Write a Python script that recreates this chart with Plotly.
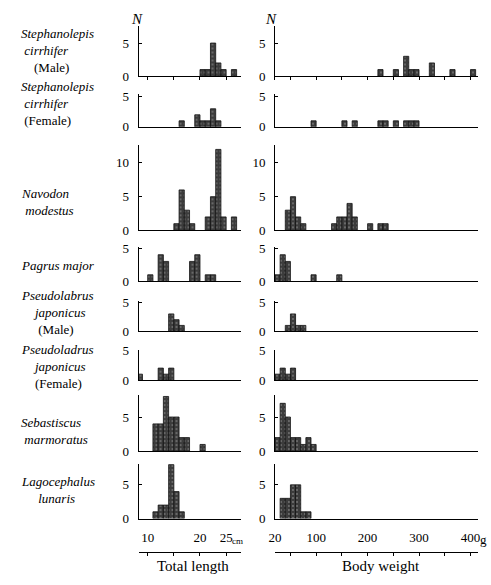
import plotly.graph_objects as go

W, H = 491, 585

# ---------------- data ----------------
# species label lines: (text, italic, indent in spaces)
species_labels = [
    [("Stephanolepis", True, 0), ("cirrhifer", True, 1), ("(Male)", False, 4)],
    [("Stephanolepis", True, 0), ("cirrhifer", True, 1), ("(Female)", False, 1)],
    [("Navodon", True, 0), ("modestus", True, 1)],
    [("Pagrus major", True, 0)],
    [("Pseudolabrus", True, 0), ("japonicus", True, 4), ("(Male)", False, 5)],
    [("Pseudoladrus", True, 0), ("japonicus", True, 4), ("(Female)", False, 4)],
    [("Sebastiscus", True, 0), ("marmoratus", True, 1)],
    [("Lagocephalus", True, 0), ("lunaris", True, 5)],
]

# Total length, 1-cm classes (lower edge, cm) and counts N
sc_male_len_bins = [20, 21, 22, 23, 24, 26]
sc_male_len_n = [1, 1, 5, 2, 1, 1]
sc_female_len_bins = [16, 19, 20, 21, 22, 23]
sc_female_len_n = [1, 2, 1, 1, 3, 1]
navodon_len_bins = [15, 16, 17, 18, 21, 22, 23, 24, 26]
navodon_len_n = [1, 6, 3, 1, 2, 5, 12, 2, 2]
pagrus_len_bins = [10, 12, 13, 18, 19, 21, 22]
pagrus_len_n = [1, 4, 3, 3, 4, 1, 1]
pj_male_len_bins = [14, 15, 16]
pj_male_len_n = [3, 2, 1]
pj_female_len_bins = [8, 12, 13, 14]
pj_female_len_n = [1, 2, 1, 2]
sebast_len_bins = [11, 12, 13, 14, 15, 16, 17, 20]
sebast_len_n = [4, 4, 8, 5, 5, 2, 2, 1]
lago_len_bins = [11, 12, 13, 14, 15, 16]
lago_len_n = [1, 2, 2, 8, 4, 1]

# Body weight, 10-g classes (lower edge, g) and counts N
sc_male_wt_bins = [220, 250, 270, 280, 290, 320, 360, 400]
sc_male_wt_n = [1, 1, 3, 1, 1, 2, 1, 1]
sc_female_wt_bins = [90, 150, 170, 220, 230, 250, 270, 280, 290]
sc_female_wt_n = [1, 1, 1, 1, 1, 1, 1, 1, 1]
navodon_wt_bins = [40, 50, 60, 70, 130, 140, 150, 160, 170, 200, 220, 230]
navodon_wt_n = [3, 5, 2, 1, 1, 2, 2, 4, 2, 1, 1, 1]
pagrus_wt_bins = [20, 30, 40, 90, 140]
pagrus_wt_n = [1, 4, 3, 1, 1]
pj_male_wt_bins = [40, 50, 60, 70]
pj_male_wt_n = [1, 3, 1, 1]
pj_female_wt_bins = [20, 30, 40, 50]
pj_female_wt_n = [1, 2, 1, 2]
sebast_wt_bins = [20, 30, 40, 50, 60, 70, 80, 90]
sebast_wt_n = [2, 7, 5, 2, 2, 1, 2, 1]
lago_wt_bins = [30, 40, 50, 60, 70, 80]
lago_wt_n = [3, 3, 5, 5, 1, 1]

# mean marks (small triangles under each histogram)
len_means = [22.8, 20.6, 21.0, 17.4, 15.0, 12.5, 14.3, 14.5]
wt_means = [297, 221, 121, 75, 58, 40, 49, 54]

len_bins = [sc_male_len_bins, sc_female_len_bins, navodon_len_bins, pagrus_len_bins,
            pj_male_len_bins, pj_female_len_bins, sebast_len_bins, lago_len_bins]
len_counts = [sc_male_len_n, sc_female_len_n, navodon_len_n, pagrus_len_n,
              pj_male_len_n, pj_female_len_n, sebast_len_n, lago_len_n]
wt_bins = [sc_male_wt_bins, sc_female_wt_bins, navodon_wt_bins, pagrus_wt_bins,
           pj_male_wt_bins, pj_female_wt_bins, sebast_wt_bins, lago_wt_bins]
wt_counts = [sc_male_wt_n, sc_female_wt_n, navodon_wt_n, pagrus_wt_n,
             pj_male_wt_n, pj_female_wt_n, sebast_wt_n, lago_wt_n]

len_ticks = [10, 15, 20, 25]
len_ticktext = ["10", "", "20", "25"]
wt_ticks = [20, 50, 100, 150, 200, 250, 300, 350, 400]
wt_ticktext = ["20", "", "100", "", "200", "", "300", "", "400"]

# ---------------- geometry / style ----------------
row_top = [20, 89, 142, 246, 301.7, 351.7, 398.3, 469]
row_base = [71, 123, 229.3, 281.7, 332.7, 383, 456, 525]
row_ymax = [7.5, 5.5, 12.6, 5.2, 5.25, 5.05, 8.2, 8.1]
row_yticks = [[0, 5], [0, 5], [0, 5, 10], [0, 5], [0, 5], [0, 5], [0, 5], [0, 5]]
label_center_y = [45, 99, 200, 265, 313.5, 369, 435, 496]
LABEL_X = 12
LEFT_PX = (134, 238)
RIGHT_PX = (273, 480)
LEN_RANGE = [8.25, 27.77]
WT_RANGE = [20, 415]
LEN_W = 1.0
WT_W = 10.0

SERIF = "Liberation Serif"
INK = "#000000"


def px_x(p):
    return p / W


def px_y(p):
    return 1 - p / H


def ax_name(kind, idx):
    return kind + "axis" + ("" if idx == 1 else str(idx))


def ax_ref(kind, idx):
    return kind + ("" if idx == 1 else str(idx))


bar_marker = dict(
    color="#3c3c3c",
    line=dict(color="#111111", width=0.8),
    pattern=dict(shape=".", fgcolor="#b8b8b8", size=4, solidity=0.18, fillmode="overlay"),
)

fig = go.Figure()
layout = {}
annotations = []

for r in range(8):
    px_per_unit = (row_base[r] - row_top[r]) / row_ymax[r]
    for c in range(2):
        idx = 2 * r + 1 + c
        if c == 0:
            bins, counts, width, xr, dom, mean = len_bins[r], len_counts[r], LEN_W, LEN_RANGE, LEFT_PX, len_means[r]
            tv = len_ticks
        else:
            bins, counts, width, xr, dom, mean = wt_bins[r], wt_counts[r], WT_W, WT_RANGE, RIGHT_PX, wt_means[r]
            tv = wt_ticks
        fig.add_trace(go.Bar(
            x=[b + width / 2 for b in bins], y=counts, width=width,
            marker=bar_marker, xaxis=ax_ref("x", idx), yaxis=ax_ref("y", idx),
            showlegend=False, hoverinfo="skip",
        ))
        fig.add_trace(go.Scatter(
            x=[mean], y=[-1.6 / px_per_unit], mode="markers",
            marker=dict(symbol="triangle-up", size=5, color="#222"),
            xaxis=ax_ref("x", idx), yaxis=ax_ref("y", idx),
            showlegend=False, hoverinfo="skip", cliponaxis=False,
        ))
        layout[ax_name("x", idx)] = dict(
            domain=[px_x(dom[0]), px_x(dom[1])], range=xr, anchor=ax_ref("y", idx),
            showline=True, linecolor=INK, linewidth=1.3, showgrid=False, zeroline=False,
            showticklabels=False,
            ticks="outside" if r == 0 else "", tickvals=tv, ticklen=3, tickcolor=INK,
        )
        layout[ax_name("y", idx)] = dict(
            domain=[px_y(row_base[r]), px_y(row_top[r])], range=[0, row_ymax[r]],
            anchor=ax_ref("x", idx),
            showline=True, linecolor=INK, linewidth=1.0, showgrid=False, zeroline=False,
            ticks="inside", ticklen=3, tickcolor=INK, tickvals=row_yticks[r],
            tickfont=dict(family=SERIF, size=13, color=INK), ticklabelstandoff=6,
        )
    # species label (one text block per species)
    lines = []
    for txt, it, ind in species_labels[r]:
        pad = "&nbsp;" * ind
        lines.append(pad + (f"<i>{txt}</i>" if it else txt))
    annotations.append(dict(
        x=px_x(LABEL_X), y=px_y(label_center_y[r]), xref="paper", yref="paper",
        text="<br>".join(lines), showarrow=False, align="left",
        xanchor="left", yanchor="middle",
        font=dict(family=SERIF, size=13, color=INK),
    ))

# N labels
for nx in (132, 269):
    annotations.append(dict(x=px_x(nx), y=px_y(12), xref="paper", yref="paper",
                            text="<i>N</i>", showarrow=False, xanchor="center", yanchor="middle",
                            font=dict(family=SERIF, size=15, color=INK)))

# bottom scale axes
AXIS_Y = 560
for idx, dom, xr, tv, tt in ((17, LEFT_PX, LEN_RANGE, len_ticks, len_ticktext),
                             (18, RIGHT_PX, WT_RANGE, wt_ticks, wt_ticktext)):
    fig.add_trace(go.Scatter(x=[None], y=[None], xaxis=ax_ref("x", idx), yaxis=ax_ref("y", idx),
                             showlegend=False, hoverinfo="skip"))
    layout[ax_name("x", idx)] = dict(
        domain=[px_x(dom[0]), px_x(dom[1])], range=xr, anchor=ax_ref("y", idx), side="top",
        showline=True, linecolor=INK, linewidth=1.2, showgrid=False, zeroline=False,
        ticks="inside", ticklen=3, tickcolor=INK, tickvals=tv, ticktext=tt,
        tickfont=dict(family=SERIF, size=13, color=INK), ticklabelstandoff=4,
    )
    layout[ax_name("y", idx)] = dict(domain=[px_y(580), px_y(AXIS_Y)], visible=False,
                                     anchor=ax_ref("x", idx), range=[0, 1])

annotations += [
    dict(x=px_x(235), y=px_y(548), xref="paper", yref="paper", text="cm", showarrow=False,
         xanchor="center", yanchor="middle", font=dict(family=SERIF, size=9, color=INK)),
    dict(x=px_x(485), y=px_y(547), xref="paper", yref="paper", text="g", showarrow=False,
         xanchor="center", yanchor="middle", font=dict(family=SERIF, size=13, color=INK)),
    dict(x=px_x(189), y=px_y(574), xref="paper", yref="paper", text="Total length", showarrow=False,
         xanchor="center", yanchor="middle", font=dict(family=SERIF, size=15, color=INK)),
    dict(x=px_x(381), y=px_y(574), xref="paper", yref="paper", text="Body weight", showarrow=False,
         xanchor="center", yanchor="middle", font=dict(family=SERIF, size=15, color=INK)),
]

fig.update_layout(
    width=W, height=H, autosize=False,
    margin=dict(l=0, r=0, t=0, b=0),
    paper_bgcolor="white", plot_bgcolor="white",
    annotations=annotations, barmode="overlay",
    **layout,
)

fig.write_html("out.html", config={"displayModeBar": False},
               post_script="document.body.style.margin='0';document.body.style.overflow='hidden';")
